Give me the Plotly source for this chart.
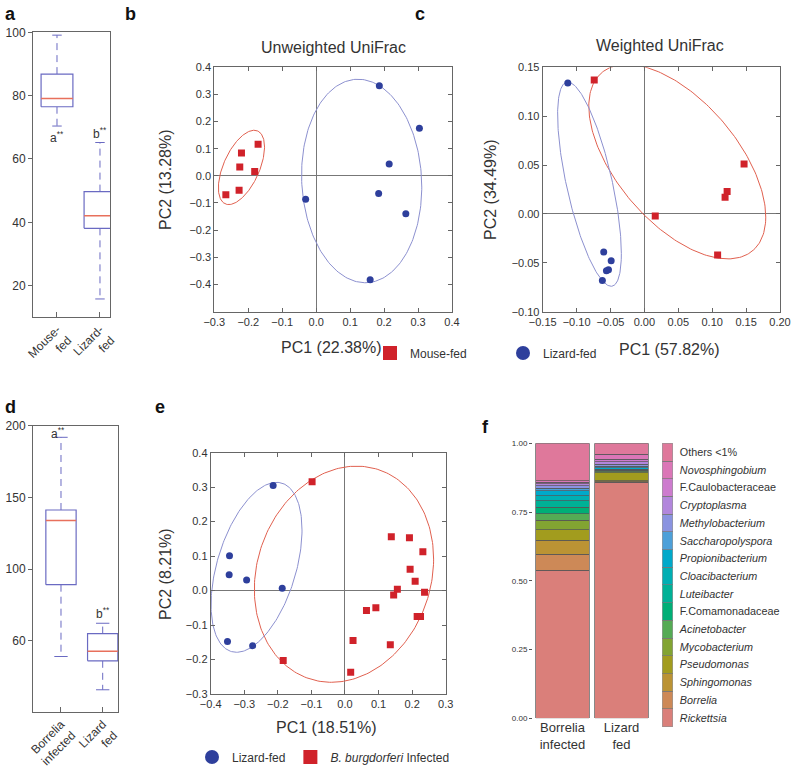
import numpy as np
import plotly.graph_objects as go

W, H = 793, 771
FONT = "Liberation Sans, Arial, sans-serif"

# ---------------- data ----------------
# panel a (boxplot summaries)
a_groups = ["Mouse-<br>fed", "Lizard-<br>fed"]
a_q1 = [76.5, 38.1]
a_med = [79.1, 42.1]
a_q3 = [86.8, 49.7]
a_lo = [70.4, 15.8]
a_hi = [99.1, 65.2]
a_letters = ["a<sup>**</sup>", "b<sup>**</sup>"]
a_ticks = [20, 40, 60, 80, 100]

# panel d (boxplot summaries)
d_groups = ["Borrelia<br>infected", "Lizard<br>fed"]
d_q1 = [89.1, 36.0]
d_med = [133.8, 42.7]
d_q3 = [141.2, 55.0]
d_lo = [39.0, 15.8]
d_hi = [191.9, 62.2]
d_letters = ["a<sup>**</sup>", "b<sup>**</sup>"]
d_tickvals = [50, 100, 150, 200]
d_ticktext = ["60", "100", "150", "200"]

# panel b: Unweighted UniFrac
b_mouse_x = [-0.266, -0.227, -0.225, -0.220, -0.181, -0.171]
b_mouse_y = [-0.070, -0.053, 0.033, 0.084, 0.016, 0.116]
b_lizard_x = [-0.031, 0.186, 0.215, 0.184, 0.264, 0.159, 0.304]
b_lizard_y = [-0.086, 0.332, 0.044, -0.065, -0.140, -0.383, 0.175]
# ellipse params: centre x, centre y, x half-extent, y half-extent, cos(phase)
b_mouse_ell = [-0.220, 0.031, 0.068, 0.137, 0.55]
b_lizard_ell = [0.134, -0.019, 0.177, 0.375, -0.06]

# panel c: Weighted UniFrac
c_mouse_x = [-0.074, 0.016, 0.147, 0.122, 0.119, 0.108]
c_mouse_y = [0.137, -0.002, 0.051, 0.023, 0.017, -0.042]
c_lizard_x = [-0.113, -0.060, -0.049, -0.053, -0.056, -0.062]
c_lizard_y = [0.134, -0.039, -0.048, -0.057, -0.058, -0.068]
c_mouse_ell = [0.0485, 0.0535, 0.1305, 0.0995, -0.57]
c_lizard_ell = [-0.081, 0.0305, 0.047, 0.1045, -0.68]

# panel e
e_lizard_x = [-0.214, -0.344, -0.345, -0.293, -0.187, -0.350, -0.275]
e_lizard_y = [0.305, 0.101, 0.046, 0.031, 0.007, -0.148, -0.160]
e_borr_x = [-0.098, -0.184, 0.017, 0.024, 0.064, 0.092, 0.135, 0.138, 0.192,
            0.232, 0.194, 0.209, 0.156, 0.145, 0.237, 0.215, 0.225]
e_borr_y = [0.316, -0.203, -0.237, -0.145, -0.058, -0.050, -0.157, 0.156, 0.153,
            0.113, 0.062, 0.027, 0.004, -0.013, -0.005, -0.075, -0.075]
e_lizard_ell = [-0.2635, 0.0675, 0.1355, 0.2465, 0.44]
e_borr_ell = [-0.003, 0.0475, 0.267, 0.3135, 0.14]

# panel f: relative abundance (bottom -> top)
f_groups = ["Borrelia<br>infected", "Lizard<br>fed"]
f_taxa = ["Rickettsia", "Borrelia", "Sphingomonas", "Pseudomonas", "Mycobacterium",
          "Acinetobacter", "F.Comamonadaceae", "Luteibacter", "Cloacibacterium",
          "Propionibacterium", "Saccharopolyspora", "Methylobacterium", "Cryptoplasma",
          "F.Caulobacteraceae", "Novosphingobium", "Others <1%"]
f_italic = [True, True, True, True, True, True, False, True, True, True, True, True,
            True, False, True, False]
f_borrelia = [0.539, 0.058, 0.050, 0.038, 0.036, 0.023, 0.023, 0.024, 0.018, 0.018,
              0.010, 0.008, 0.007, 0.006, 0.005, 0.137]
f_lizard = [0.858, 0.003, 0.003, 0.029, 0.004, 0.003, 0.002, 0.002, 0.002, 0.005,
            0.005, 0.008, 0.009, 0.009, 0.018, 0.040]
f_ticks = [0, 0.25, 0.5, 0.75, 1.0]
f_ticktext = ["0.00", "0.25", "0.50", "0.75", "1.00"]

# ---------------- styles ----------------
RED = "#D0222A"
BLUE = "#2E3F9C"
RED_ELL = "#E0604F"
BLUE_ELL = "#8C90CF"
BOX_C = "#6A6AC2"
MED_C = "#E8705C"
FRAME = "#666666"
TXT = "#333333"


def hcl_hex(h, c, l):
    hr = np.deg2rad(h)
    u, v = c * np.cos(hr), c * np.sin(hr)
    Xn, Yn, Zn = 95.047, 100.0, 108.883
    Y = Yn * ((l + 16) / 116) ** 3 if l > 8 else Yn * l / 903.3
    un = 4 * Xn / (Xn + 15 * Yn + 3 * Zn)
    vn = 9 * Yn / (Xn + 15 * Yn + 3 * Zn)
    up = u / (13 * l) + un
    vp = v / (13 * l) + vn
    X = 9 * Y * up / (4 * vp)
    Z = (12 - 3 * up - 20 * vp) * Y / (4 * vp)
    X, Y, Z = X / 100, Y / 100, Z / 100
    r = 3.2404542 * X - 1.5371385 * Y - 0.4985314 * Z
    g = -0.9692660 * X + 1.8760108 * Y + 0.0415560 * Z
    b = 0.0556434 * X - 0.2040259 * Y + 1.0572252 * Z
    out = []
    for ch in (r, g, b):
        ch = min(max(ch, 0), 1)
        ch = 12.92 * ch if ch <= 0.0031308 else 1.055 * ch ** (1 / 2.4) - 0.055
        out.append(int(round(ch * 255)))
    return "#%02X%02X%02X" % tuple(out)


n = len(f_taxa)
f_colors = [hcl_hex(15 + 360 * i / n, 66, 63) for i in range(n)]


def dx(x0, x1):
    return [x0 / W, x1 / W]


def dy(y0, y1):
    return [1 - y1 / H, 1 - y0 / H]


def ellipse(p, npts=240):
    cx, cy, rx, ry, cphi = p
    phi = np.arccos(cphi)
    t = np.linspace(0, 2 * np.pi, npts)
    return cx + rx * np.cos(t), cy + ry * np.cos(t - phi)


fig = go.Figure()


def add_box(xa, ya, q1, med, q3, lo, hi, hw, cw):
    for i in range(len(q1)):
        x = i + 1
        fig.add_trace(go.Scatter(x=[x, x, None, x, x], y=[q3[i], hi[i], None, q1[i], lo[i]],
                                 mode="lines", line=dict(color=BOX_C, width=1, dash="7px,5px"),
                                 xaxis=xa, yaxis=ya, showlegend=False, hoverinfo="skip"))
        fig.add_trace(go.Scatter(x=[x - cw, x + cw, None, x - cw, x + cw],
                                 y=[hi[i], hi[i], None, lo[i], lo[i]],
                                 mode="lines", line=dict(color=BOX_C, width=1),
                                 xaxis=xa, yaxis=ya, showlegend=False, hoverinfo="skip"))
        fig.add_trace(go.Scatter(x=[x - hw, x + hw, x + hw, x - hw, x - hw],
                                 y=[q1[i], q1[i], q3[i], q3[i], q1[i]],
                                 mode="lines", line=dict(color=BOX_C, width=1.2),
                                 fill="toself", fillcolor="white",
                                 xaxis=xa, yaxis=ya, showlegend=False, hoverinfo="skip"))
        fig.add_trace(go.Scatter(x=[x - hw, x + hw], y=[med[i], med[i]],
                                 mode="lines", line=dict(color=MED_C, width=1.5),
                                 xaxis=xa, yaxis=ya, showlegend=False, hoverinfo="skip"))


add_box("x", "y", a_q1, a_med, a_q3, a_lo, a_hi, 0.37, 0.11)
add_box("x4", "y4", d_q1, d_med, d_q3, d_lo, d_hi, 0.363, 0.16)


def add_pcoa(xa, ya, sq_x, sq_y, ci_x, ci_y, sq_ell, ci_ell):
    ex, ey = ellipse(sq_ell)
    fig.add_trace(go.Scatter(x=ex, y=ey, mode="lines", line=dict(color=RED_ELL, width=1),
                             xaxis=xa, yaxis=ya, showlegend=False, hoverinfo="skip"))
    ex, ey = ellipse(ci_ell)
    fig.add_trace(go.Scatter(x=ex, y=ey, mode="lines", line=dict(color=BLUE_ELL, width=1),
                             xaxis=xa, yaxis=ya, showlegend=False, hoverinfo="skip"))
    fig.add_trace(go.Scatter(x=sq_x, y=sq_y, mode="markers",
                             marker=dict(symbol="square", size=7, color=RED),
                             xaxis=xa, yaxis=ya, showlegend=False))
    fig.add_trace(go.Scatter(x=ci_x, y=ci_y, mode="markers",
                             marker=dict(symbol="circle", size=7, color=BLUE),
                             xaxis=xa, yaxis=ya, showlegend=False))


add_pcoa("x2", "y2", b_mouse_x, b_mouse_y, b_lizard_x, b_lizard_y, b_mouse_ell, b_lizard_ell)
add_pcoa("x3", "y3", c_mouse_x, c_mouse_y, c_lizard_x, c_lizard_y, c_mouse_ell, c_lizard_ell)
add_pcoa("x5", "y5", e_borr_x, e_borr_y, e_lizard_x, e_lizard_y, e_borr_ell, e_lizard_ell)

# legend entries
fig.add_trace(go.Scatter(x=[None], y=[None], mode="markers", name="Mouse-fed",
                         marker=dict(symbol="square", size=14, color=RED),
                         xaxis="x2", yaxis="y2", legend="legend"))
fig.add_trace(go.Scatter(x=[None], y=[None], mode="markers", name="Lizard-fed",
                         marker=dict(symbol="circle", size=14, color=BLUE),
                         xaxis="x2", yaxis="y2", legend="legend"))
fig.add_trace(go.Scatter(x=[None], y=[None], mode="markers", name="Lizard-fed",
                         marker=dict(symbol="circle", size=14, color=BLUE),
                         xaxis="x5", yaxis="y5", legend="legend2"))
fig.add_trace(go.Scatter(x=[None], y=[None], mode="markers",
                         name="<i>B. burgdorferi</i> Infected",
                         marker=dict(symbol="square", size=14, color=RED),
                         xaxis="x5", yaxis="y5", legend="legend2"))

# panel f bars
for i, taxon in enumerate(f_taxa):
    fig.add_trace(go.Bar(x=f_groups, y=[f_borrelia[i], f_lizard[i]], width=0.9,
                         marker=dict(color=f_colors[i], line=dict(color="#555555", width=0.7)),
                         xaxis="x6", yaxis="y6", showlegend=False, name=taxon))
    fig.add_trace(go.Bar(x=[0], y=[1], width=1,
                         marker=dict(color=f_colors[i], line=dict(color="#777777", width=0.7)),
                         xaxis="x7", yaxis="y7", showlegend=False, hoverinfo="skip"))

tickfont = dict(family=FONT, size=11, color=TXT)


def frame_axis(**kw):
    d = dict(showline=True, linecolor=FRAME, linewidth=1, mirror=True, showgrid=False,
             zeroline=False, tickfont=tickfont, tickcolor=FRAME, fixedrange=True,
             automargin=False)
    d.update(kw)
    return d


def pcoa_axis(**kw):
    d = frame_axis(ticks="inside", ticklen=4, mirror="ticks", zeroline=True,
                   zerolinecolor="#777777", zerolinewidth=1)
    d.update(kw)
    return d


layout = dict(
    width=W, height=H, margin=dict(l=0, r=0, t=0, b=0, autoexpand=False),
    plot_bgcolor="white", paper_bgcolor="white", barmode="stack",
    font=dict(family=FONT, color=TXT),
    # a
    xaxis=frame_axis(domain=dx(33, 110), range=[0.442, 2.233], tickvals=[1, 2],
                     ticktext=a_groups, tickangle=-45, ticks="inside", ticklen=5,
                     tickfont=dict(family=FONT, size=12, color=TXT), anchor="y"),
    yaxis=frame_axis(domain=dy(32.3, 316.7), range=[10.2, 100], tickvals=a_ticks,
                     ticks="outside", ticklen=4,
                     tickfont=dict(family=FONT, size=12, color=TXT), anchor="x"),
    # b
    xaxis2=pcoa_axis(domain=dx(214.3, 452), range=[-0.3, 0.4],
                     tickvals=[-0.3, -0.2, -0.1, 0, 0.1, 0.2, 0.3, 0.4], tickformat=".1f",
                     anchor="y2"),
    yaxis2=pcoa_axis(domain=dy(67.3, 311.5), range=[-0.5, 0.4],
                     tickvals=[-0.4, -0.3, -0.2, -0.1, 0, 0.1, 0.2, 0.3, 0.4], tickformat=".1f",
                     anchor="x2"),
    # c
    xaxis3=pcoa_axis(domain=dx(542.7, 780), range=[-0.15, 0.20],
                     tickvals=[-0.15, -0.1, -0.05, 0, 0.05, 0.1, 0.15, 0.2], tickformat=".2f",
                     anchor="y3"),
    yaxis3=pcoa_axis(domain=dy(67.3, 311.7), range=[-0.10, 0.15],
                     tickvals=[-0.1, -0.05, 0, 0.05, 0.1, 0.15], tickformat=".2f",
                     anchor="x3"),
    # d
    xaxis4=frame_axis(domain=dx(33, 118.3), range=[0.329, 2.374], tickvals=[1, 2],
                      ticktext=d_groups, tickangle=-45, ticks="inside", ticklen=5,
                      tickfont=dict(family=FONT, size=12, color=TXT), anchor="y4"),
    yaxis4=frame_axis(domain=dy(425.7, 711.7), range=[0.5, 200], tickvals=d_tickvals,
                      ticktext=d_ticktext, ticks="outside", ticklen=4,
                      tickfont=dict(family=FONT, size=12, color=TXT), anchor="x4"),
    # e
    xaxis5=pcoa_axis(domain=dx(210.7, 445.7), range=[-0.4, 0.3],
                     tickvals=[-0.4, -0.3, -0.2, -0.1, 0, 0.1, 0.2, 0.3], tickformat=".1f",
                     anchor="y5"),
    yaxis5=pcoa_axis(domain=dy(452.7, 694), range=[-0.3, 0.4],
                     tickvals=[-0.3, -0.2, -0.1, 0, 0.1, 0.2, 0.3, 0.4], tickformat=".1f",
                     anchor="x5"),
    # f
    xaxis6=dict(domain=dx(533, 651), range=[-0.5, 1.5], showline=False, showgrid=False,
                zeroline=False, ticks="", tickfont=dict(family=FONT, size=13, color=TXT),
                anchor="y6", fixedrange=True, automargin=False),
    yaxis6=dict(domain=dy(443.3, 718.3), range=[0, 1], tickvals=f_ticks, ticktext=f_ticktext,
                showline=False, showgrid=False, zeroline=False, ticks="outside", ticklen=3,
                tickcolor="#555555",
                tickfont=dict(family="Liberation Sans Narrow, " + FONT, size=8, color=TXT),
                anchor="x6", fixedrange=True, automargin=False),
    xaxis7=dict(domain=dx(662.3, 672.7), range=[-0.5, 0.5], visible=False, anchor="y7",
                fixedrange=True, automargin=False),
    yaxis7=dict(domain=dy(443.3, 726.7), range=[0, len(f_taxa)], side="right",
                tickvals=[i + 0.5 for i in range(len(f_taxa))],
                ticktext=[("<i>%s</i>" % t) if it else t for t, it in zip(f_taxa, f_italic)],
                showline=False, showgrid=False, zeroline=False, ticks="outside", ticklen=4,
                tickcolor="rgba(0,0,0,0)",
                tickfont=dict(family=FONT, size=10.8, color=TXT), anchor="x7",
                fixedrange=True, automargin=False),
    legend=dict(orientation="h", x=370 / W, xanchor="left", y=1 - 353 / H, yanchor="middle",
                font=dict(family=FONT, size=12, color=TXT), entrywidth=88,
                traceorder="normal", bgcolor="rgba(0,0,0,0)", itemsizing="trace"),
    legend2=dict(orientation="h", x=192 / W, xanchor="left", y=1 - 757 / H, yanchor="middle",
                 font=dict(family=FONT, size=12, color=TXT),
                 traceorder="normal", bgcolor="rgba(0,0,0,0)", itemsizing="trace"),
)
fig.update_layout(**layout)

ann = []


def text(x, y, t, size=16, bold=False, angle=0, xanchor="center"):
    ann.append(dict(x=x / W, y=1 - y / H, xref="paper", yref="paper", text=t,
                    showarrow=False, textangle=angle, xanchor=xanchor, yanchor="middle",
                    font=dict(family=FONT, size=size, color="#111111" if bold else TXT)))


# panel letters
for lab, x, y in [("a", 10, 14), ("b", 130, 14), ("c", 420, 14), ("d", 10, 407),
                  ("e", 160, 407), ("f", 485, 427)]:
    text(x, y, "<b>%s</b>" % lab, size=18, bold=True)

# titles
text(333, 47, "Unweighted UniFrac", size=16)
text(660, 45, "Weighted UniFrac", size=16)

# axis titles
text(165, 180, "PC2 (13.28%)", size=16, angle=-90)
text(331, 348, "PC1 (22.38%)", size=16)
text(490, 190, "PC2 (34.49%)", size=16, angle=-90)
text(669, 350, "PC1 (57.82%)", size=16)
text(165, 574, "PC2 (8.21%)", size=16, angle=-90)
text(326, 727, "PC1 (18.51%)", size=16)

# significance letters (data coords)
for i, t in enumerate(a_letters):
    yv = a_lo[i] if i == 0 else a_hi[i]
    ann.append(dict(x=i + 1, y=yv, xref="x", yref="y", text=t, showarrow=False,
                    yshift=-11 if i == 0 else 10, font=dict(family=FONT, size=12, color=TXT)))
for i, t in enumerate(d_letters):
    ann.append(dict(x=i + 1, y=d_hi[i], xref="x4", yref="y4", text=t, showarrow=False,
                    yshift=4 if i == 0 else 10, xshift=-3 if i == 0 else 0,
                    font=dict(family=FONT, size=12, color=TXT)))

fig.update_layout(annotations=ann)
fig.write_html("out.html", config={"displayModeBar": False},
               post_script="document.body.style.margin='0';document.body.style.padding='0';"
                           "document.body.style.overflow='hidden';")
